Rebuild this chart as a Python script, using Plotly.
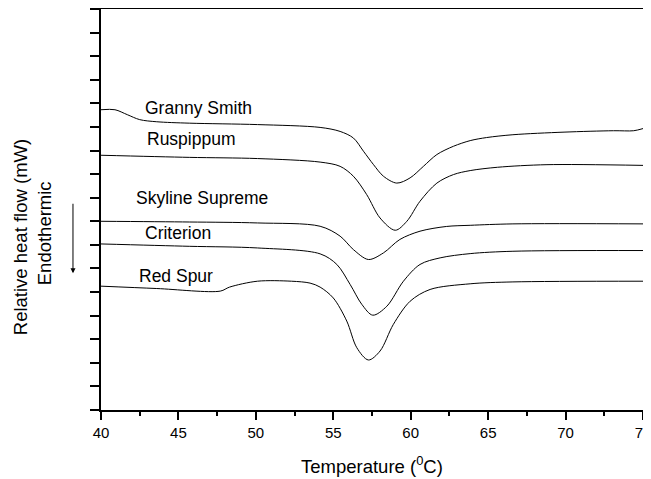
import plotly.graph_objects as go

# Temperature (°C) and relative heat flow (arbitrary offset units)
gs_x = [40.0, 40.9, 41.7, 42.5, 43.6, 45.7, 50.1, 54.15, 55.44, 56.3, 56.95, 57.6, 58.24, 59.1, 59.96, 60.82, 61.69, 62.76, 63.84, 64.9, 66.6, 69.9, 73.1, 74.4, 75.0]
gs_y = [12.73, 12.73, 12.52, 12.31, 12.22, 12.16, 12.10, 11.98, 11.81, 11.53, 10.97, 10.40, 9.91, 9.62, 9.84, 10.33, 10.83, 11.18, 11.42, 11.55, 11.67, 11.78, 11.84, 11.84, 11.93]

ru_x = [40.0, 45.7, 50.1, 54.15, 55.44, 56.3, 57.16, 58.02, 59.0, 59.75, 60.6, 61.69, 62.76, 63.84, 65.6, 68.8, 75.0]
ru_y = [10.80, 10.71, 10.66, 10.51, 10.33, 9.91, 9.13, 8.14, 7.62, 8.00, 8.85, 9.62, 9.98, 10.15, 10.29, 10.40, 10.37]

sk_x = [40.0, 45.7, 50.1, 54.15, 55.44, 56.3, 57.27, 58.24, 59.3, 60.6, 62.3, 63.84, 66.6, 75.0]
sk_y = [8.00, 7.97, 7.93, 7.79, 7.37, 6.80, 6.38, 6.66, 7.23, 7.58, 7.78, 7.83, 7.89, 7.89]

cr_x = [40.0, 45.7, 50.1, 54.15, 55.23, 56.09, 56.84, 57.55, 58.46, 59.53, 60.6, 61.9, 63.84, 66.6, 75.0]
cr_y = [7.04, 6.94, 6.87, 6.62, 6.17, 5.32, 4.48, 4.02, 4.40, 5.46, 6.17, 6.45, 6.63, 6.73, 6.76]

rs_x = [40.0, 43.6, 47.7, 48.3, 50.1, 52.3, 53.5, 54.15, 55.0, 55.87, 56.52, 57.27, 58.02, 58.88, 59.96, 61.25, 63.84, 66.6, 75.0]
rs_y = [5.25, 5.15, 5.04, 5.21, 5.46, 5.46, 5.38, 5.21, 4.75, 3.77, 2.64, 2.12, 2.50, 3.63, 4.61, 5.11, 5.35, 5.43, 5.46]

labels = ["Granny Smith", "Ruspippum", "Skyline Supreme", "Criterion", "Red Spur"]
label_x = [46.3, 45.83, 46.54, 44.99, 44.83]
label_y = [12.81, 11.48, 9.00, 7.52, 5.69]

x_ticks = [40, 45, 50, 55, 60, 65, 70, 75]

series = [(gs_x, gs_y), (ru_x, ru_y), (sk_x, sk_y), (cr_x, cr_y), (rs_x, rs_y)]

FONT = "Liberation Sans, Arial"

fig = go.Figure()
for (xs, ys), name in zip(series, labels):
    fig.add_trace(go.Scatter(x=xs, y=ys, mode="lines", name=name,
                             line=dict(color="black", width=1, shape="spline", smoothing=0.9),
                             showlegend=False, cliponaxis=False))

for t, lx, ly in zip(labels, label_x, label_y):
    fig.add_annotation(x=lx, y=ly, text=t, showarrow=False,
                       font=dict(family=FONT, size=17.5, color="black"))

fig.add_annotation(xref="paper", yref="paper", x=-0.1494, y=0.431, text="Relative heat flow (mW)",
                   textangle=-90, showarrow=False, xanchor="center", yanchor="middle",
                   font=dict(family=FONT, size=18.5, color="black"))
fig.add_annotation(xref="paper", yref="paper", x=-0.105, y=0.441, text="Endothermic",
                   textangle=-90, showarrow=False, xanchor="center", yanchor="middle",
                   font=dict(family=FONT, size=18.5, color="black"))
fig.add_annotation(xref="paper", yref="paper", x=-0.0517, y=0.341, text="",
                   showarrow=True, ax=0, ay=-71, axref="pixel", ayref="pixel",
                   arrowhead=2, arrowsize=1, arrowwidth=1, arrowcolor="black")
fig.add_annotation(xref="paper", yref="paper", x=0.5, y=-0.137, text="Temperature (<sup>0</sup>C)",
                   showarrow=False, xanchor="center", yanchor="middle",
                   font=dict(family=FONT, size=18.5, color="black"))

# page body has an 8px default margin, so the figure is sized/offset to compensate
fig.update_layout(
    width=643, height=471,
    margin=dict(l=93, r=8, t=1, b=69),
    plot_bgcolor="white", paper_bgcolor="white",
    font=dict(family=FONT, color="black"),
    xaxis=dict(range=[40, 75], tickvals=x_ticks, ticktext=[str(v) for v in x_ticks],
               ticks="outside", ticklen=8, tickwidth=1.5, tickcolor="black",
               minor=dict(dtick=2.5, ticks="outside", ticklen=4, tickwidth=1.5, tickcolor="black"),
               showline=True, linecolor="black", linewidth=2, mirror=True,
               showgrid=False, zeroline=False, automargin=False,
               ticklabeloverflow="allow",
               tickfont=dict(size=15)),
    yaxis=dict(range=[0, 17], dtick=1, tick0=0, showticklabels=False,
               ticks="outside", ticklen=9, tickwidth=1.5, tickcolor="black",
               showline=True, linecolor="black", linewidth=2, mirror=True,
               showgrid=False, zeroline=False, automargin=False),
)

fig.write_html("out.html")
